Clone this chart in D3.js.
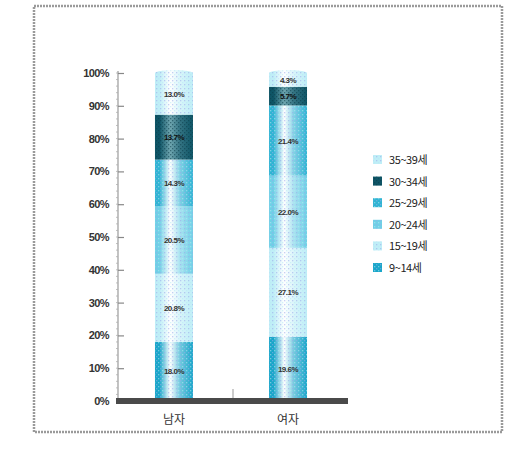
<!DOCTYPE html>
<html><head><meta charset="utf-8">
<script src="https://cdn.jsdelivr.net/npm/d3@7"></script>
<style>body{margin:0;background:#fff}svg{display:block}</style>
</head><body>
<svg id="c" width="507" height="466"></svg>
<script>
const categories = ["남자", "여자"];
const seriesNames = ["9~14세", "15~19세", "20~24세", "25~29세", "30~34세", "35~39세"];
const male = [18.0, 20.8, 20.5, 14.3, 13.7, 13.0];
const female = [19.6, 27.1, 22.0, 21.4, 5.7, 4.3];
const yTicks = [0, 10, 20, 30, 40, 50, 60, 70, 80, 90, 100];
const colors = ["#19a6c9", "#bfeef7", "#6fd0e6", "#2fb4d3", "#0e5566", "#bfeef7"];

const svg = d3.select("#c");
const font = "'Liberation Sans', Arial, sans-serif";

// frame
svg.append("rect").attr("x", 34).attr("y", 6).attr("width", 468).attr("height", 426)
  .attr("fill", "none").attr("stroke", "#9a9a9a").attr("stroke-width", 2.5)
  .attr("stroke-dasharray", "2,1");

const y = d3.scaleLinear().domain([0, 100]).range([401, 73]);
const x = d3.scaleBand().domain(categories).range([117, 345]).paddingInner(0.667).paddingOuter(0.333);

const defs = svg.append("defs");
colors.forEach((c, i) => {
  const g = defs.append("linearGradient").attr("id", "g" + i).attr("x1", 0).attr("x2", 1).attr("y1", 0).attr("y2", 0);
  const light = i === 4 ? "#6fa6b0" : "#ffffff";
  g.append("stop").attr("offset", 0).attr("stop-color", c);
  g.append("stop").attr("offset", 0.12).attr("stop-color", c);
  g.append("stop").attr("offset", 0.4).attr("stop-color", light);
  g.append("stop").attr("offset", 0.65).attr("stop-color", d3.interpolateRgb(light, c)(0.6));
  g.append("stop").attr("offset", 1).attr("stop-color", c);
  const p = defs.append("pattern").attr("id", "p" + i).attr("width", 4).attr("height", 4).attr("patternUnits", "userSpaceOnUse");
  p.append("rect").attr("x", 0).attr("y", 0).attr("width", 1.3).attr("height", 1.3).attr("fill", i === 4 ? "#0a3c48" : "#9aa8e8").attr("opacity", 0.55);
  p.append("rect").attr("x", 2).attr("y", 2).attr("width", 1.3).attr("height", 1.3).attr("fill", i === 4 ? "#0a3c48" : "#b8e6f4").attr("opacity", 0.55);
});

// y axis
svg.append("line").attr("x1", 118).attr("x2", 118).attr("y1", y(100) - 2).attr("y2", y(0))
  .attr("stroke", "#9a9a9a").attr("stroke-width", 1.2);
d3.range(0, 101, 2).forEach(v => {
  svg.append("line").attr("x1", 116).attr("x2", 118).attr("y1", y(v)).attr("y2", y(v))
    .attr("stroke", "#b0b0b0").attr("stroke-width", 0.8);
});
const yAxis = svg.append("g").attr("transform", "translate(118,0)")
  .call(d3.axisRight(y).tickValues(yTicks).tickSize(6).tickFormat(""));
yAxis.select(".domain").remove();
yAxis.selectAll("line").attr("stroke", "#888").attr("stroke-width", 1.2);
svg.selectAll("text.yl").data(yTicks).join("text").attr("class", "yl")
  .attr("x", 109).attr("y", d => y(d) + 4).attr("text-anchor", "end")
  .attr("font-family", font).attr("font-size", 11).attr("font-weight", "bold").attr("fill", "#333")
  .attr("letter-spacing", -0.6).text(d => d + "%");

// bars
const data = [male, female];
categories.forEach((cat, ci) => {
  const vals = data[ci];
  const bx = x(cat), bw = x.bandwidth();
  let cum = 0;
  const segs = vals.map((v, i) => { const s = {i, v, y0: cum, y1: cum + v}; cum += v; return s; });
  const g = svg.append("g");
  segs.forEach(s => {
    const top = y(Math.min(s.y1, 100)), bot = y(s.y0);
    g.append("rect").attr("x", bx).attr("y", top).attr("width", bw).attr("height", bot - top).attr("fill", "url(#g" + s.i + ")");
    g.append("rect").attr("x", bx).attr("y", top).attr("width", bw).attr("height", bot - top).attr("fill", "url(#p" + s.i + ")");
  });
  const last = segs[segs.length - 1];
  g.append("ellipse").attr("cx", bx + bw / 2).attr("cy", y(100)).attr("rx", bw / 2).attr("ry", 3)
    .attr("fill", "url(#g" + last.i + ")");
  g.append("ellipse").attr("cx", bx + bw / 2).attr("cy", y(100)).attr("rx", bw / 2).attr("ry", 3)
    .attr("fill", "url(#p" + last.i + ")");
  segs.forEach(s => {
    g.append("text").attr("x", bx + bw / 2).attr("y", y((s.y0 + Math.min(s.y1, 100)) / 2) + 3)
      .attr("text-anchor", "middle").attr("font-family", font).attr("font-size", 8).attr("font-weight", "bold")
      .attr("fill", s.i === 4 ? "#111" : "#333").attr("letter-spacing", -0.5).text(s.v.toFixed(1) + "%");
  });
  svg.append("text").attr("x", bx + bw / 2).attr("y", 424).attr("text-anchor", "middle")
    .attr("font-family", "'Noto Sans CJK KR', sans-serif").attr("font-size", 12).attr("fill", "#333").text(cat);
});

// baseline bar and middle tick
svg.append("rect").attr("x", 116).attr("y", y(0) - 3).attr("width", 232).attr("height", 6).attr("fill", "#4a4a4a");
svg.append("line").attr("x1", 233).attr("x2", 233).attr("y1", y(0) - 12).attr("y2", y(0) - 3)
  .attr("stroke", "#999").attr("stroke-width", 1);

// legend
const legOrder = seriesNames.map((n, i) => i).reverse();
legOrder.forEach((si, k) => {
  const ly = 160 + k * 21.6;
  svg.append("rect").attr("x", 373).attr("y", ly - 5).attr("width", 9).attr("height", 9).attr("fill", colors[si]);
  svg.append("rect").attr("x", 373).attr("y", ly - 5).attr("width", 9).attr("height", 9).attr("fill", "url(#p" + si + ")");
  svg.append("text").attr("x", 389).attr("y", ly + 4).attr("font-family", "'Noto Sans CJK KR', sans-serif")
    .attr("font-size", 11).attr("fill", "#222").attr("letter-spacing", -0.4).text(seriesNames[si]);
});
</script>
</body></html>
